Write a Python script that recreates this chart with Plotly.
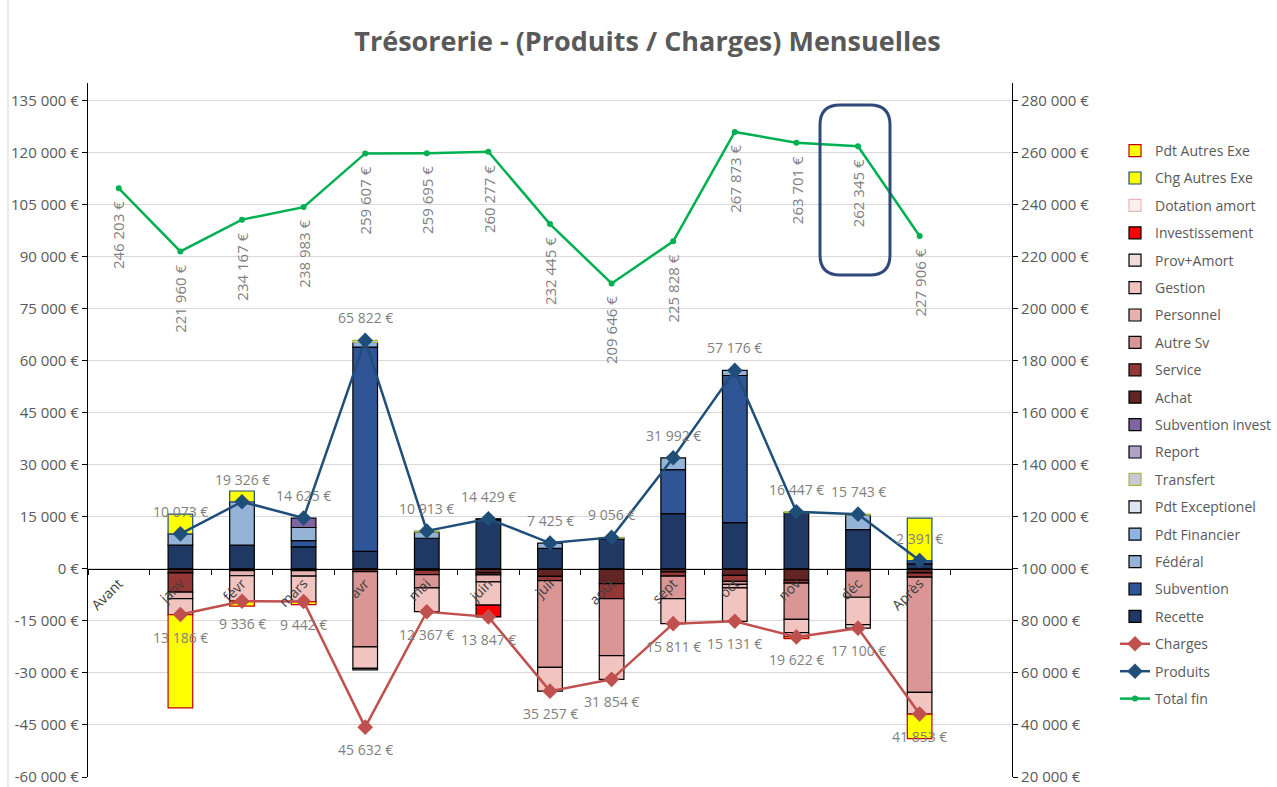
import plotly.graph_objects as go

categories = ["Avant", "janv", "févr", "mars", "avr", "mai", "juin", "juil", "août",
              "sept", "oct", "nov", "déc", "Après"]

# ---- Produits detail (positive stack) ----
recette = [None, 6800, 6800, 6300, 5000, 8800, 14100, 5900, 8600, 15900, 13300, 16200, 11300, 1400]
subvention = [None, None, None, 1800, 58900, None, None, None, None, 12700, 42400, None, None, 991]
federal = [None, 3273, 12526, 3800, None, 1863, 329, 1525, 250, 3392, 1476, None, 4243, None]
pdt_financier = [None, None, None, None, 1322, None, None, None, None, None, None, None, None, None]
pdt_exceptionel = [None] * 14
transfert = [None, None, None, None, 600, 250, None, None, 206, None, None, 247, 200, None]
report = [None] * 14
subvention_invest = [None, None, None, 2725, None, None, None, None, None, None, None, None, None, None]

# ---- Charges detail (negative stack) ----
achat = [None, -1200, -500, -500, -800, -400, -1200, -2200, -4300, -900, -1900, -3300, -600, -1200]
service = [None, -5500, None, None, None, -1300, -547, -1200, -4300, -1200, -1700, -800, None, -1200]
autre_sv = [None, None, None, None, -21700, -3800, None, -25000, -16400, -6500, -900, -10500, -7600, -33200]
personnel = [None, -1900, -1500, -1600, None, None, -2000, None, None, None, -1000, None, None, None]
gestion = [None, -4586, -7336, -7342, -6200, -6867, -6700, -6857, -6854, -7211, -9631, -3800, -7900, -6253]
prov_amort = [None, None, None, None, -400, None, None, None, None, None, None, -1222, -1000, None]
investissement = [None, None, None, None, None, None, -3400, None, None, None, None, None, None, None]
dotation_amort = [None] * 14
chg_autres_exe = [None, 5700, 3100, None, None, None, None, None, None, None, None, None, None, 12200]
pdt_autres_exe = [None, -26900, -1400, -900, None, None, None, None, None, None, None, -500, None, -7100]

# ---- lines ----
produits = [None, 10073, 19326, 14625, 65822, 10913, 14429, 7425, 9056, 31992, 57176, 16447, 15743, 2391]
charges = [None, -13186, -9336, -9442, -45632, -12367, -13847, -35257, -31854, -15811, -15131, -19622, -17100, -41853]
total_fin = [246203, 221960, 234167, 238983, 259607, 259695, 260277, 232445, 209646, 225828,
             267873, 263701, 262345, 227906]

left_ticks = list(range(-60000, 135001, 15000))
right_ticks = list(range(20000, 280001, 20000))


def eur(v):
    s = f"{abs(v):,}".replace(",", " ") + " €"
    return s if v >= 0 else "-" + s


GREY = "#7F7F7F"
FONT = "Open Sans"

fig = go.Figure()

# (name, data, fill, line colour, legend rank)
bar_series = [
    ("Recette", recette, "#203864", "#000000", 18),
    ("Subvention", subvention, "#2F5597", "#000000", 17),
    ("Fédéral", federal, "#95B3D7", "#000000", 16),
    ("Pdt Financier", pdt_financier, "#8EB4E3", "#000000", 15),
    ("Pdt Exceptionel", pdt_exceptionel, "#DCE6F2", "#000000", 14),
    ("Transfert", transfert, "#CCC6DC", "#A6B84C", 13),
    ("Report", report, "#B3A2C7", "#000000", 12),
    ("Subvention invest", subvention_invest, "#8064A2", "#000000", 11),
    ("Achat", achat, "#632523", "#000000", 10),
    ("Service", service, "#953735", "#000000", 9),
    ("Autre Sv", autre_sv, "#D99694", "#000000", 8),
    ("Personnel", personnel, "#E6B2B1", "#000000", 7),
    ("Gestion", gestion, "#F2C4C0", "#000000", 6),
    ("Prov+Amort", prov_amort, "#F2DCDB", "#000000", 5),
    ("Investissement", investissement, "#FF0000", "#000000", 4),
    ("Dotation amort", dotation_amort, "#FBEFEF", "#E6B9B8", 3),
    ("Chg Autres Exe", chg_autres_exe, "#FFFF00", "#1F4E79", 2),
    ("Pdt Autres Exe", pdt_autres_exe, "#FFFF00", "#C00000", 1),
]

for name, data, fill, lc, rank in bar_series:
    fig.add_trace(go.Bar(
        x=categories, y=data, name=name, width=0.4,
        marker=dict(color=fill, line=dict(color=lc, width=1.2)),
        legendrank=rank, legendgroup=name,
    ))

fig.add_trace(go.Scatter(
    x=categories, y=charges, name="Charges", mode="lines+markers",
    line=dict(color="#C0504D", width=2.5),
    marker=dict(symbol="diamond", size=12, color="#C0504D"),
    legendrank=19, legendgroup="Charges",
))
fig.add_trace(go.Scatter(
    x=categories, y=produits, name="Produits", mode="lines+markers",
    line=dict(color="#1F4E79", width=2.5),
    marker=dict(symbol="diamond", size=12, color="#1F4E79"),
    legendrank=20, legendgroup="Produits",
))
fig.add_trace(go.Scatter(
    x=categories, y=total_fin, name="Total fin", mode="lines+markers",
    line=dict(color="#00B050", width=2.5),
    marker=dict(symbol="circle", size=6, color="#00B050"),
    yaxis="y2", legendrank=21, legendgroup="Total fin",
))

annotations = []
for c, v in zip(categories, produits):
    if v is not None:
        annotations.append(dict(x=c, y=v, xref="x", yref="y", text=eur(v), showarrow=False,
                                yanchor="bottom", yshift=11,
                                font=dict(family=FONT, size=14, color=GREY)))
for c, v in zip(categories, charges):
    if v is not None:
        annotations.append(dict(x=c, y=v, xref="x", yref="y", text=eur(abs(v)), showarrow=False,
                                yanchor="top", yshift=-11,
                                font=dict(family=FONT, size=14, color=GREY)))
for c, v in zip(categories, total_fin):
    annotations.append(dict(x=c, y=v, xref="x", yref="y2", text=eur(v), showarrow=False,
                            textangle=-90, yanchor="top", yshift=-11,
                            font=dict(family=FONT, size=15, color=GREY)))

# plot area in pixels
PL, PR, PT, PB = 88, 1012, 83, 777


def px2paper(px, py):
    return (px - PL) / (PR - PL), (PB - py) / (PB - PT)


# highlight box around the déc label (paper coordinates)
x0, y0 = px2paper(820, 105)
x1, y1 = px2paper(890, 275)
rx, ry = 20 / (PR - PL), 20 / (PB - PT)
path = (f"M {x0 + rx},{y0} L {x1 - rx},{y0} Q {x1},{y0} {x1},{y0 - ry} "
        f"L {x1},{y1 + ry} Q {x1},{y1} {x1 - rx},{y1} L {x0 + rx},{y1} "
        f"Q {x0},{y1} {x0},{y1 + ry} L {x0},{y0 - ry} Q {x0},{y0} {x0 + rx},{y0} Z")
bx, by_top = px2paper(8, 0)
_, by_bot = px2paper(8, 787)
shapes = [
    dict(type="path", xref="paper", yref="paper", path=path,
         line=dict(color="#2F4A7A", width=3), fillcolor="rgba(0,0,0,0)"),
    dict(type="line", xref="paper", yref="paper", x0=bx, x1=bx, y0=by_bot, y1=by_top,
         line=dict(color="#D9D9D9", width=1)),
]

fig.update_layout(
    width=1277, height=787,
    paper_bgcolor="white", plot_bgcolor="white",
    barmode="relative",
    margin=dict(l=PL, r=1277 - PR, t=PT, b=787 - PB, autoexpand=False),
    font=dict(family=FONT, size=12, color="#595959"),
    title=dict(text="<b>Trésorerie - (Produits / Charges) Mensuelles</b>",
               x=0.507, xref="container", xanchor="center",
               y=1 - 42 / 787, yref="container", yanchor="middle",
               font=dict(family=FONT, size=27, color="#595959")),
    xaxis=dict(type="category", categoryorder="array", categoryarray=categories,
               range=[-0.5, 14.5], anchor="free", position=0.3,
               showline=True, linecolor="#000000", linewidth=1.2,
               ticks="outside", tickson="boundaries", ticklen=5, tickcolor="#000000",
               tickangle=-45, showgrid=False, zeroline=False,
               tickfont=dict(family=FONT, size=14, color="#404040")),
    yaxis=dict(range=[-60000, 140000], tickvals=left_ticks, ticktext=[eur(v) for v in left_ticks],
               showline=True, linecolor="#000000", linewidth=1.2,
               ticks="outside", ticklen=5, tickcolor="#000000",
               showgrid=True, gridcolor="#D9D9D9", zeroline=False,
               ticklabeloverflow="allow",
               tickfont=dict(family=FONT, size=15, color="#595959")),
    yaxis2=dict(range=[20000, 20000 + 200000 * 4 / 3], overlaying="y", side="right",
                tickvals=right_ticks, ticktext=[eur(v) for v in right_ticks],
                showline=True, linecolor="#000000", linewidth=1.2,
                ticks="outside", ticklen=5, tickcolor="#000000",
                showgrid=False, zeroline=False,
                ticklabeloverflow="allow",
                tickfont=dict(family=FONT, size=15, color="#595959")),
    legend=dict(x=(1115 - PL) / (PR - PL), xanchor="left",
                y=(PB - 135) / (PB - PT), yanchor="top",
                traceorder="grouped", tracegroupgap=6.2,
                font=dict(family=FONT, size=14, color="#595959"),
                bgcolor="rgba(0,0,0,0)"),
    annotations=annotations,
    shapes=shapes,
)

fig.write_html("out.html", config={"displayModeBar": False},
               post_script="document.body.style.margin='0px';")
